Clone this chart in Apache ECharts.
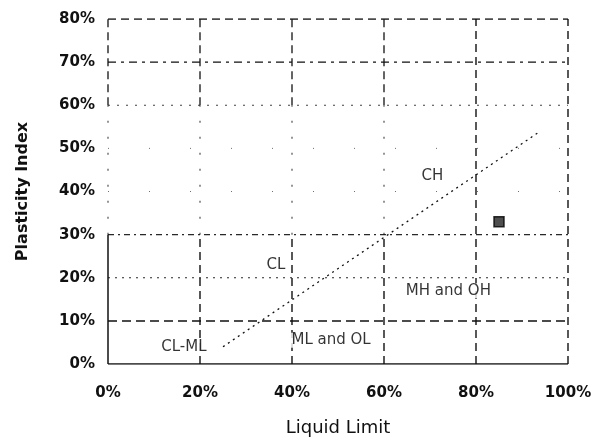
<!DOCTYPE html>
<html>
<head>
<meta charset="utf-8">
<script src="https://cdn.jsdelivr.net/npm/echarts@6/dist/echarts.min.js"></script>
<style>
  html, body { margin: 0; padding: 0; background: #fff; }
  #chart { width: 607px; height: 440px; }
</style>
</head>
<body>
<div id="chart"></div>
<script>
// Axis ticks (percent)
const xTicks = [0, 20, 40, 60, 80, 100];
const yTicks = [0, 10, 20, 30, 40, 50, 60, 70, 80];
const xTickLabels = ['0%', '20%', '40%', '60%', '80%', '100%'];
const yTickLabels = ['0%', '10%', '20%', '30%', '40%', '50%', '60%', '70%', '80%'];

// A-line (liquid limit, plasticity index)
const aLineLL = [25, 94];
const aLinePI = [4, 54];

// Soil zone names and where they sit (LL, PI)
const zoneNames = ['CH', 'CL', 'MH and OH', 'ML and OL', 'CL-ML'];
const zoneLL = [70.5, 36.5, 74, 48.5, 16.5];
const zonePI = [43.5, 23, 17, 5.5, 4];

// Sample point
const sampleLL = [85];
const samplePI = [33];

const ink = '#111';

// Gridline styles per level
const hStyles = {
  0:  { type: 'solid', width: 1.6, opacity: 1 },
  10: { type: [9, 5], width: 1.5, opacity: 1 },
  20: { type: [2, 5], width: 1.2, opacity: 0.9 },
  30: { type: [6, 4, 2, 4], width: 1.2, opacity: 0.9 },
  40: { type: [1, 40], width: 1, opacity: 0.6 },
  50: { type: [1, 40], width: 1, opacity: 0.6 },
  60: { type: [2, 7], width: 1.2, opacity: 0.8 },
  70: { type: [8, 5, 3, 5], width: 1.4, opacity: 1 },
  80: { type: [8, 5], width: 1.5, opacity: 1 }
};

const series = [];

// horizontal gridlines
yTicks.forEach(function (y) {
  const s = hStyles[y];
  series.push({
    type: 'line', silent: true, symbol: 'none', z: 1,
    data: [[xTicks[0], y], [xTicks[xTicks.length - 1], y]],
    lineStyle: { color: ink, width: s.width, type: s.type, opacity: s.opacity }
  });
});

// vertical gridlines: dashed lower band, lighter above
xTicks.forEach(function (x, i) {
  const strongTop = (i >= 4) ? 80 : 30;
  series.push({
    type: 'line', silent: true, symbol: 'none', z: 1,
    data: [[x, 0], [x, strongTop]],
    lineStyle: { color: ink, width: i === 0 ? 1.5 : 1.4, type: i === 0 ? 'solid' : [8, 5], opacity: 1 }
  });
  if (strongTop < 80) {
    series.push({
      type: 'line', silent: true, symbol: 'none', z: 1,
      data: [[x, strongTop], [x, 60]],
      lineStyle: { color: ink, width: 1.1, type: [2, 14], opacity: 0.8 }
    });
    series.push({
      type: 'line', silent: true, symbol: 'none', z: 1,
      data: [[x, 60], [x, 80]],
      lineStyle: { color: ink, width: 1.3, type: [8, 5], opacity: 1 }
    });
  }
});

// A-line
series.push({
  type: 'line', silent: true, symbol: 'none', z: 3,
  data: aLineLL.map(function (v, i) { return [v, aLinePI[i]]; }),
  lineStyle: { color: ink, width: 1.3, type: [2, 4] }
});

// zone names
series.push({
  type: 'scatter', silent: true, symbolSize: 0, z: 4,
  data: zoneNames.map(function (n, i) { return { name: n, value: [zoneLL[i], zonePI[i]] }; }),
  label: {
    show: true, position: 'inside', formatter: '{b}',
    color: '#000', fontFamily: 'DejaVu Sans, sans-serif', fontSize: 15,
    backgroundColor: '#fff', padding: [0, 2]
  }
});

// sample point
series.push({
  type: 'scatter', silent: true, z: 5,
  symbol: 'rect', symbolSize: 10,
  data: sampleLL.map(function (v, i) { return [v, samplePI[i]]; }),
  itemStyle: { color: '#222', borderColor: '#000', borderWidth: 1.5 }
});

const chart = echarts.init(document.getElementById('chart'), null, { renderer: 'canvas' });
chart.setOption({
  backgroundColor: '#fff',
  animation: false,
  grid: { left: 108, right: 39, top: 19, bottom: 76, containLabel: false, outerBoundsMode: 'none' },
  xAxis: {
    type: 'value', min: 0, max: 100, interval: 20,
    name: 'Liquid Limit', nameLocation: 'middle', nameGap: 55,
    nameTextStyle: { color: ink, fontFamily: 'DejaVu Sans, sans-serif', fontSize: 18 },
    axisLine: { show: false }, axisTick: { show: false }, splitLine: { show: false },
    axisLabel: {
      margin: 22, color: ink, fontFamily: 'DejaVu Sans, sans-serif', fontSize: 15, fontWeight: 'bold',
      formatter: function (v) { return xTickLabels[xTicks.indexOf(v)]; }
    }
  },
  yAxis: {
    type: 'value', min: 0, max: 80, interval: 10,
    name: 'Plasticity Index', nameLocation: 'middle', nameGap: 77,
    nameTextStyle: { color: ink, fontFamily: 'DejaVu Sans, sans-serif', fontSize: 16, fontWeight: 'bold' },
    axisLine: { show: false }, axisTick: { show: false }, splitLine: { show: false },
    axisLabel: {
      margin: 13, color: ink, fontFamily: 'DejaVu Sans, sans-serif', fontSize: 15, fontWeight: 'bold',
      formatter: function (v) { return yTickLabels[yTicks.indexOf(v)]; }
    }
  },
  series: series
});
</script>
</body>
</html>
